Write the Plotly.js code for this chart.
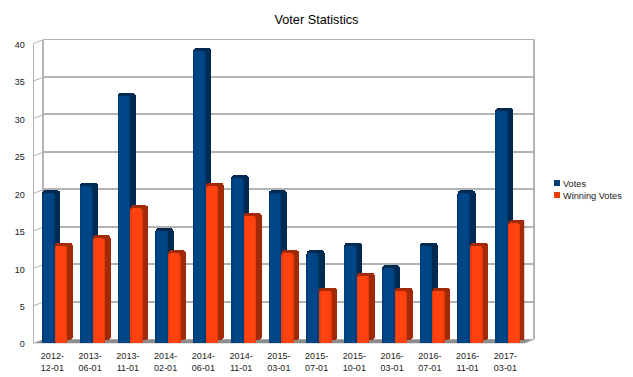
<!DOCTYPE html>
<html><head><meta charset="utf-8">
<script src="https://cdn.plot.ly/plotly-3.0.1.min.js"></script>
<style>html,body{margin:0;padding:0;background:#fff}#c{width:633px;height:377px}</style></head>
<body><div id="c"></div>
<script>
const categories = ["2012-<br>12-01","2013-<br>06-01","2013-<br>11-01","2014-<br>02-01","2014-<br>06-01","2014-<br>11-01","2015-<br>03-01","2015-<br>07-01","2015-<br>10-01","2016-<br>03-01","2016-<br>07-01","2016-<br>11-01","2017-<br>03-01"];
const votes = [20,21,33,15,39,22,20,12,13,10,13,20,31];
const winningVotes = [13,14,18,12,21,17,12,7,9,7,7,13,16];
const yTicks = [0,5,10,15,20,25,30,35,40];

const W=633,H=377;
const fx=[33.5,524.25], fy=[343.3,43.5], bx=[44,534], by=[339.3,39.5];
const catW=(fx[1]-fx[0])/13, pxY=(fy[0]-fy[1])/40;
const gray='#b3b3b3';
const barW=12.6/catW, side=5.6/catW, lift=3.2/pxY, edge=1.6/catW;
const blueOff=-0.27, orangeOff=blueOff+barW;

function sideTrace(vals,off,color){return {type:'bar',x:categories,y:vals,base:vals.map(()=>lift),xaxis:'x2',yaxis:'y2',
  width:barW+side,offset:off,marker:{color:color,line:{width:0},cornerradius:4},showlegend:false,hoverinfo:'skip'};}
function frontTrace(vals,off,color,name){return {type:'bar',name:name,x:categories,y:vals,xaxis:'x2',yaxis:'y2',
  width:barW,offset:off,marker:{color:color,line:{width:0},cornerradius:3}};}
function innerTrace(vals,off,color){return {type:'bar',x:categories,y:vals,xaxis:'x2',yaxis:'y2',
  width:barW-2*edge,offset:off+edge,marker:{color:color,line:{width:0},cornerradius:2},showlegend:false,hoverinfo:'skip'};}

const data=[
 {type:'scatter',x:categories,y:votes,xaxis:'x',yaxis:'y',mode:'none',showlegend:false,hoverinfo:'skip'},
 sideTrace(votes,blueOff,'#002a52'),
 frontTrace(votes,blueOff,'#003e79','Votes'),
 innerTrace(votes,blueOff,'#004586'),
 sideTrace(winningVotes,orangeOff,'#a32a09'),
 frontTrace(winningVotes,orangeOff,'#e83c0d','Winning Votes'),
 innerTrace(winningVotes,orangeOff,'#ff420e')
];
const px=x=>x/W, py=y=>1-y/H;
const shapes=[
 {type:'path',xref:'paper',yref:'paper',layer:'below',line:{width:0},fillcolor:'#8c8c8c',
  path:`M${px(fx[0])},${py(fy[0])} L${px(bx[0])},${py(by[0])} L${px(bx[1])},${py(by[0])} L${px(fx[1])},${py(fy[0])} Z`},
 {type:'line',xref:'paper',yref:'paper',layer:'below',x0:px(fx[0]),x1:px(fx[0]),y0:py(fy[0]),y1:py(fy[1]),line:{color:gray,width:1}},
 {type:'line',xref:'paper',yref:'paper',layer:'below',x0:px(bx[0]),x1:px(bx[1]),y0:py(by[1]),y1:py(by[1]),line:{color:gray,width:1}},
 {type:'line',xref:'paper',yref:'paper',layer:'below',x0:px(bx[1]),x1:px(bx[1]),y0:py(by[0]),y1:py(by[1]),line:{color:gray,width:2}},
 {type:'line',xref:'paper',yref:'paper',layer:'below',x0:px(fx[1]),x1:px(bx[1]),y0:py(fy[0]),y1:py(by[0]),line:{color:gray,width:1}}
].concat(yTicks.map(v=>({type:'line',xref:'paper',yref:'paper',layer:'below',
  x0:px(fx[0]),x1:px(bx[0]),y0:py(fy[0]-v*pxY),y1:py(by[0]-v*pxY),line:{color:gray,width:1}})));

const layout={
 width:W,height:H,margin:{l:0,r:0,t:0,b:0},paper_bgcolor:'#fff',plot_bgcolor:'rgba(0,0,0,0)',
 barmode:'overlay',bargap:0,
 font:{family:'"Liberation Sans",Arial,sans-serif',size:9,color:'#222'},
 title:{text:'Voter Statistics',font:{size:12.7,color:'#000'},x:316.5/W,xanchor:'center',y:py(20),yanchor:'middle',automargin:false},
 xaxis:{domain:[px(bx[0]),px(bx[1])],anchor:'y',type:'category',range:[-0.5,12.5],showticklabels:false,ticks:'',showgrid:false,zeroline:false,showline:false},
 yaxis:{domain:[py(by[0]),py(by[1])],anchor:'x',range:[0,40],tickvals:yTicks,showticklabels:false,ticks:'',showgrid:true,gridcolor:gray,gridwidth:2,zeroline:false,showline:true,linecolor:gray,linewidth:2},
 xaxis2:{domain:[px(fx[0]),px(fx[1])],anchor:'y2',type:'category',range:[-0.5,12.5],tickangle:0,ticks:'outside',ticklen:4,tickcolor:'rgba(0,0,0,0)',showgrid:false,zeroline:false,showline:false},
 yaxis2:{domain:[py(fy[0]),py(fy[1])],anchor:'x2',range:[0,40],tickvals:yTicks,ticks:'outside',ticklen:6,tickcolor:'rgba(0,0,0,0)',ticklabelshift:1,showgrid:false,zeroline:false,showline:false},
 legend:{x:523/W,xanchor:'left',y:py(171),yanchor:'top',bgcolor:'rgba(0,0,0,0)',font:{size:9.2,color:'#222'},itemclick:false,itemdoubleclick:false},
 shapes:shapes,showlegend:true
};
Plotly.newPlot('c',data,layout,{displayModeBar:false,staticPlot:true}).then(()=>{
 document.querySelectorAll('.legend .traces').forEach((t,i)=>{
  t.setAttribute('transform','translate(0,'+(12+i*12)+')');
  const p=t.querySelector('.legendpoints path');
  if(p){p.setAttribute('d','M3,3H-3V-3H3Z');p.setAttribute('transform','translate(34,0)');}
 });
});
</script></body></html>
